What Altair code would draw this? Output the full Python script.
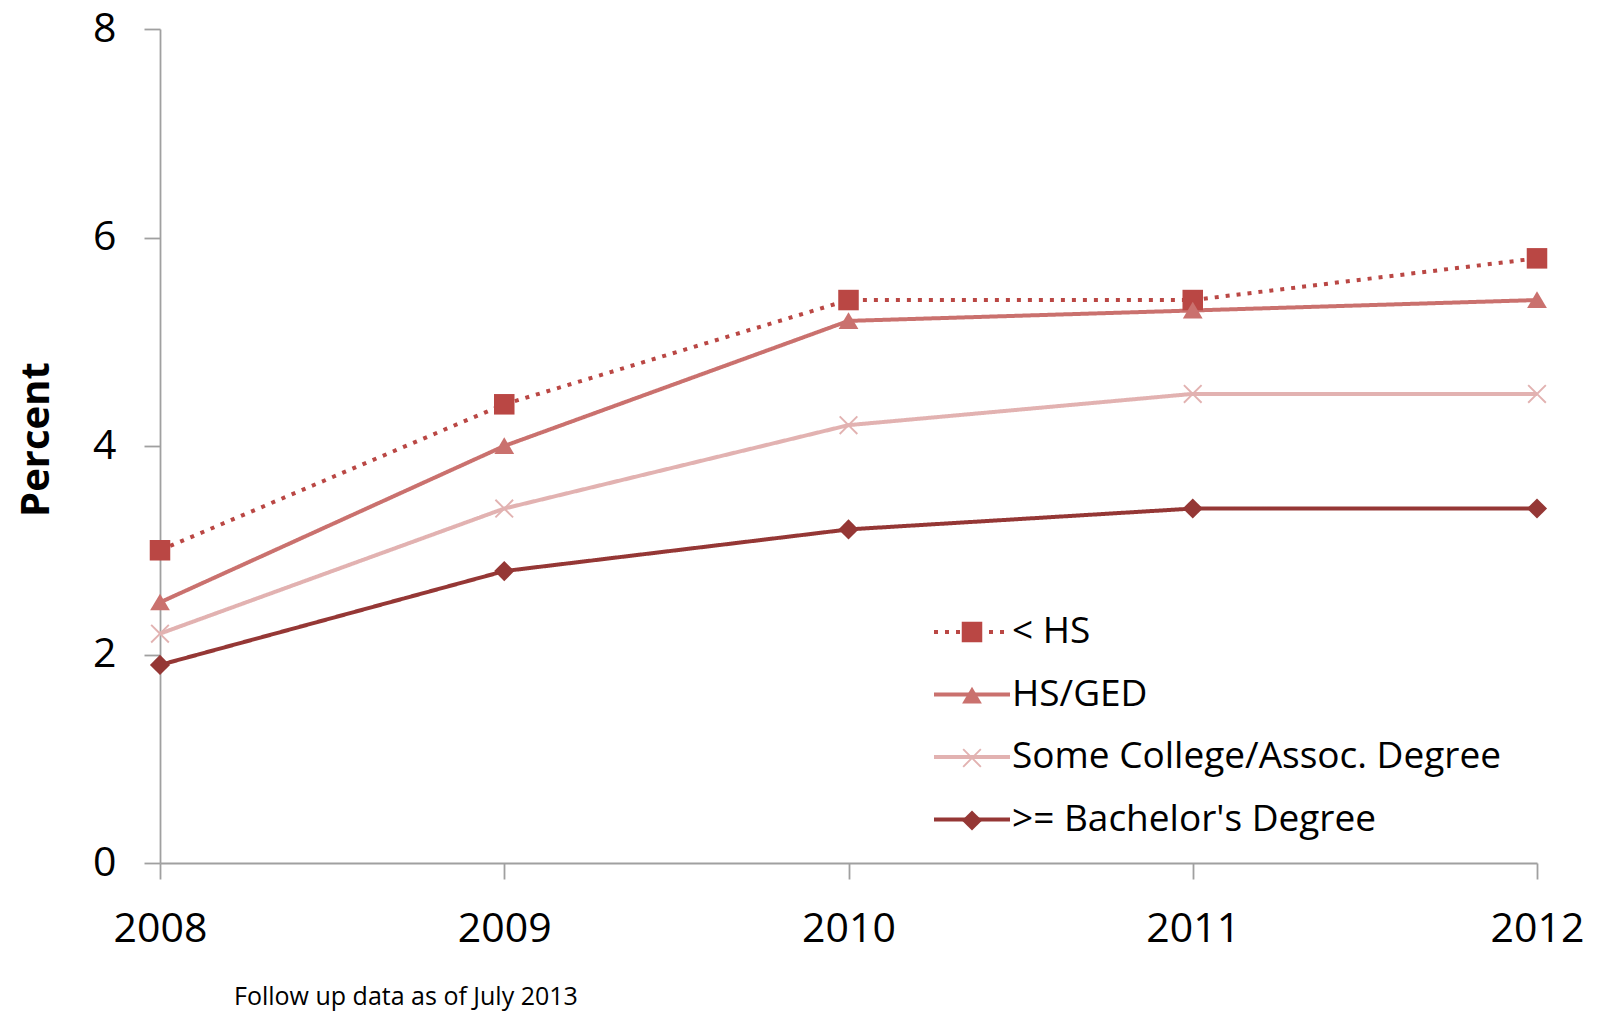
import altair as alt
import pandas as pd

years = [2008, 2009, 2010, 2011, 2012]
series_names = ["< HS", "HS/GED", "Some College/Assoc. Degree", ">= Bachelor's Degree"]
series_codes = ["a", "b", "c", "d"]
lt_hs = [3.0, 4.4, 5.4, 5.4, 5.8]
hs_ged = [2.5, 4.0, 5.2, 5.3, 5.4]
some_college = [2.2, 3.4, 4.2, 4.5, 4.5]
bachelor = [1.9, 2.8, 3.2, 3.4, 3.4]
colors = ["#BA4744", "#CA716E", "#E2B2B1", "#953735"]
dashes = [[4, 7], [1, 0], [1, 0], [1, 0]]

# marker paths (drawn with size 1444 -> 19 px per unit)
xshape = ("M-0.5,-0.43L-0.43,-0.5L0,-0.07L0.43,-0.5L0.5,-0.43L0.07,0L0.5,0.43L0.43,0.5"
          "L0,0.07L-0.43,0.5L-0.5,0.43L-0.07,0Z")
shapes = [
    "M-0.54,-0.54H0.54V0.54H-0.54Z",
    "M0,-0.46L0.52,0.42L-0.52,0.42Z",
    xshape,
    "M0,-0.53L0.53,0L0,0.53L-0.53,0Z",
]
SYM = 1444

rows = []
for name, code, vals in zip(series_names, series_codes, [lt_hs, hs_ged, some_college, bachelor]):
    for y, v in zip(years, vals):
        rows.append({"year": y, "value": v, "series": name, "code": code})
df = pd.DataFrame(rows)

FONT = "Open Sans"

x_enc = alt.X("year:Q",
              scale=alt.Scale(domain=[2008, 2012], nice=False, zero=False),
              axis=alt.Axis(values=years, format="d", title=None, grid=False,
                            labelFontSize=41, labelFont=FONT, labelColor="#000000",
                            labelPadding=30, tickSize=16, labelFlush=False))
y_enc = alt.Y("value:Q",
              scale=alt.Scale(domain=[0, 8], nice=False),
              axis=alt.Axis(values=[0, 2, 4, 6, 8], title="Percent", grid=False,
                            labelFontSize=41, labelFont=FONT, labelColor="#000000",
                            labelPadding=28, tickSize=16,
                            titleFont=FONT, titleFontSize=40, titleFontWeight="bold",
                            titleColor="#000000", titleX=-124, titleY=410,
                            titleAlign="center", titleBaseline="middle"))

label_map = "{'a': '< HS', 'b': 'HS/GED', 'c': 'Some College/Assoc. Degree', 'd': \">= Bachelor's Degree\"}[datum.label]"

LX, LY, RP = 791, 582, 23.5
legA = alt.Legend(orient="none", legendX=LX, legendY=LY, title=None,
                  symbolType="M-2,0H2", symbolSize=SYM, symbolStrokeWidth=4,
                  labelFont=FONT, labelFontSize=37, labelColor="#000000",
                  labelOffset=19, rowPadding=RP, padding=0, labelLimit=900)
legB = alt.Legend(orient="none", legendX=LX, legendY=LY, title=None,
                  symbolSize=SYM, symbolStrokeWidth=4, symbolStrokeColor="transparent",
                  labelExpr=label_map, labelOpacity=0, labelColor="transparent",
                  labelFont=FONT, labelFontSize=37, labelOffset=19, labelLimit=900,
                  rowPadding=RP, padding=0)

lines = alt.Chart(df).mark_line(strokeWidth=4).encode(
    x=x_enc, y=y_enc,
    color=alt.Color("series:N", scale=alt.Scale(domain=series_names, range=colors),
                    sort=series_names, legend=legA),
    strokeDash=alt.StrokeDash("series:N", scale=alt.Scale(domain=series_names, range=dashes),
                              sort=series_names, legend=legA),
    detail="series:N",
)

points = alt.Chart(df).mark_point(filled=True, size=SYM, opacity=1, strokeWidth=0).encode(
    x=x_enc, y=y_enc,
    fill=alt.Fill("code:N", scale=alt.Scale(domain=series_codes, range=colors), legend=legB),
    shape=alt.Shape("code:N", scale=alt.Scale(domain=series_codes, range=shapes), legend=legB),
)

chart = alt.layer(lines, points).properties(
    width=1377, height=834,
    autosize=alt.AutoSizeParams(type="none"),
    padding={"left": 152, "top": 21, "right": 55, "bottom": 150},
    title=alt.TitleParams("Follow up data as of July 2013", orient="bottom", anchor="start",
                          frame="group", dx=74, offset=36, font=FONT, fontSize=25,
                          fontWeight="normal", color="#000000"),
).configure_view(stroke=None).configure_axis(
    domainColor="#A0A0A0", domainWidth=1.8, tickColor="#A0A0A0", tickWidth=1.8
)

chart.save("out.html", embed_options={"renderer": "svg", "actions": False})
